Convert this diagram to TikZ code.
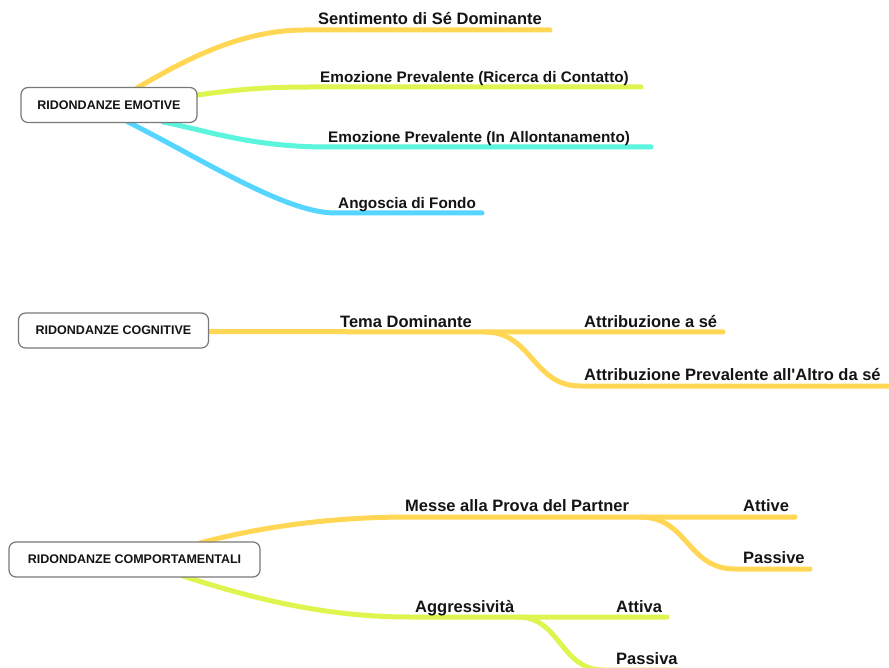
\documentclass[tikz,border=0pt]{standalone}
\usepackage{fontspec}
\setmainfont{Liberation Sans}
\definecolor{cyel}{RGB}{255,215,85}
\definecolor{clime}{RGB}{222,245,80}
\definecolor{cteal}{RGB}{90,245,220}
\definecolor{cblue}{RGB}{85,213,255}
\definecolor{cbord}{RGB}{120,120,120}
\definecolor{ctext}{RGB}{20,20,20}
\tikzset{
  rootbox/.style={draw=cbord, line width=1.2pt, fill=white, rounded corners=7pt,
    minimum height=35pt, inner sep=0pt, text=ctext,
    font=\fontsize{12.5}{14}\selectfont\bfseries},
  lab/.style={anchor=base west, inner sep=0pt, text=ctext,
    font=\fontsize{16.5}{18}\selectfont\bfseries},
  labsmall/.style={lab, font=\fontsize{15.3}{17}\selectfont\bfseries},
  branch/.style={line width=5pt, line cap=round},
}
\begin{document}
\begin{tikzpicture}[x=1pt,y=-1pt]
\useasboundingbox (0,0) rectangle (889,668);

% ---------- Ridondanze emotive ----------
\coordinate (e1s) at (137,88);
\coordinate (e1h) at (305,30);
\coordinate (e1e) at (550,30);
\coordinate (e2s) at (197,95);
\coordinate (e2h) at (310,87);
\coordinate (e2e) at (641,87);
\coordinate (e3s) at (163,122);
\coordinate (e3h) at (328,147);
\coordinate (e3e) at (651,147);
\coordinate (e4s) at (128,122);
\coordinate (e4h) at (335,213);
\coordinate (e4e) at (482,213);

\draw[branch, cyel] (e1s) .. controls (185,60) and (240,30) .. (e1h) -- (e1e);
\draw[branch, clime] (e2s) .. controls (235,90) and (260,87) .. (e2h) -- (e2e);
\draw[branch, cteal] (e3s) .. controls (205,130) and (250,147) .. (e3h) -- (e3e);
\draw[branch, cblue] (e4s) .. controls (200,158) and (285,213) .. (e4h) -- (e4e);

\node[rootbox, minimum width=176pt] (emo) at (109,105) {RIDONDANZE EMOTIVE};

\node[lab] (t1) at (318,25) {Sentimento di Sé Dominante};
\node[labsmall] (t2) at (320,82.5) {Emozione Prevalente (Ricerca di Contatto)};
\node[labsmall] (t3) at (328,142.5) {Emozione Prevalente (In Allontanamento)};
\node[labsmall] (t4) at (338,209) {Angoscia di Fondo};

% ---------- Ridondanze cognitive ----------
\coordinate (c0s) at (208,331.5);
\coordinate (c0j) at (485,332);
\coordinate (c1e) at (723,332);
\coordinate (c2h) at (580,386);
\coordinate (c2e) at (889,386);

\draw[branch, cyel] (c0s) -- (c0j) -- (c1e);
\draw[branch, cyel] (c0j) .. controls (532,332) and (533,386) .. (c2h) -- (c2e);

\node[rootbox, minimum width=190pt] (cog) at (113.5,330.5) {RIDONDANZE COGNITIVE};

\node[lab] (tc0) at (340,327) {Tema Dominante};
\node[lab] (tc1) at (584,327) {Attribuzione a sé};
\node[lab] (tc2) at (584,380.5) {Attribuzione Prevalente all\textquotesingle Altro da sé};

% ---------- Ridondanze comportamentali ----------
\coordinate (b1s) at (200,543);
\coordinate (b1h) at (410,517);
\coordinate (b1j) at (640,517);
\coordinate (b1e) at (795,517);
\coordinate (b2h) at (735,569);
\coordinate (b2e) at (810,569);
\coordinate (b3s) at (183,576);
\coordinate (b3h) at (410,617);
\coordinate (b3j) at (518,617);
\coordinate (b3e) at (667,617);
\coordinate (b4h) at (603,670);
\coordinate (b4e) at (680,670);

\draw[branch, cyel] (b1s) .. controls (260,527) and (330,517) .. (b1h) -- (b1j) -- (b1e);
\draw[branch, cyel] (b1j) .. controls (688,517) and (687,569) .. (b2h) -- (b2e);
\draw[branch, clime] (b3s) .. controls (260,601) and (330,617) .. (b3h) -- (b3j) -- (b3e);
\draw[branch, clime] (b3j) .. controls (560,617) and (561,670) .. (b4h) -- (b4e);

\node[rootbox, minimum width=251pt] (comp) at (134.5,559.5) {RIDONDANZE COMPORTAMENTALI};

\node[lab] (tb1) at (405,511) {Messe alla Prova del Partner};
\node[lab] (tb2) at (743,511) {Attive};
\node[lab] (tb3) at (743,563.5) {Passive};
\node[lab] (tb4) at (415,612) {Aggressività};
\node[lab] (tb5) at (616,612) {Attiva};
\node[lab] (tb6) at (616,664) {Passiva};
\end{tikzpicture}
\end{document}
